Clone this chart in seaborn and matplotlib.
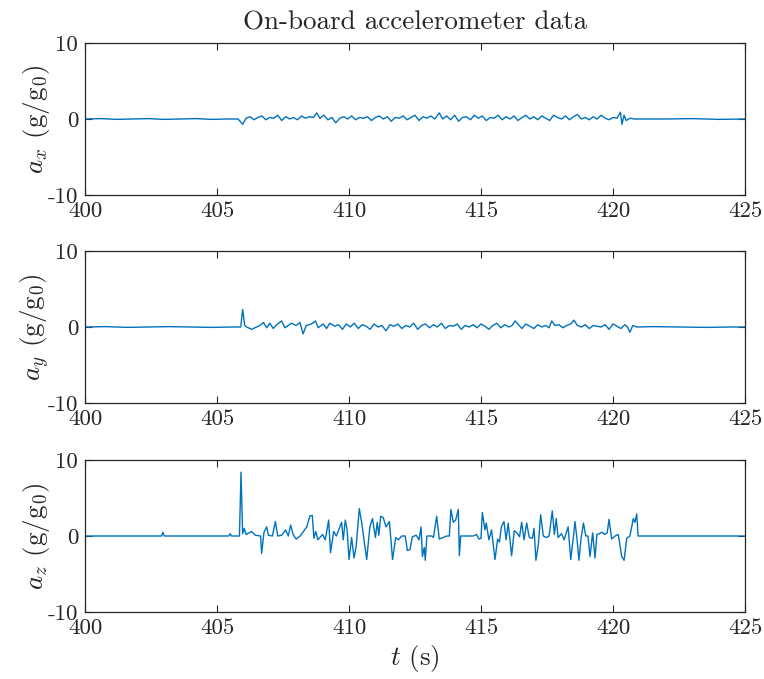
import matplotlib
matplotlib.use("Agg")
import matplotlib.pyplot as plt
import seaborn as sns
import pandas as pd

# ---- accelerometer samples: time (s) and acceleration (g/g0) ----
ax_t = [400.0, 400.6, 401.2, 401.8, 402.4, 403.0, 403.6, 404.2, 404.8, 405.4, 405.8,
        405.97, 406.1, 406.25, 406.4, 406.55, 406.7, 406.85, 407.0, 407.15, 407.3,
        407.45, 407.6, 407.75, 407.9, 408.05, 408.2, 408.35, 408.5, 408.65, 408.78,
        408.9, 409.05, 409.2, 409.35, 409.5, 409.65, 409.8, 409.95, 410.1, 410.25,
        410.4, 410.55, 410.7, 410.85, 411.0, 411.15, 411.3, 411.45, 411.6, 411.75,
        411.9, 412.05, 412.2, 412.35, 412.5, 412.65, 412.8, 412.95, 413.1, 413.25,
        413.42, 413.55, 413.7, 413.85, 414.0, 414.15, 414.3, 414.45, 414.6, 414.75,
        414.9, 415.05, 415.2, 415.35, 415.5, 415.65, 415.8, 415.95, 416.1, 416.25,
        416.4, 416.55, 416.7, 416.85, 417.0, 417.15, 417.3, 417.45, 417.6, 417.75,
        417.9, 418.05, 418.2, 418.35, 418.5, 418.65, 418.8, 418.95, 419.1, 419.25,
        419.4, 419.55, 419.7, 419.85, 420.0, 420.15, 420.28, 420.34, 420.42, 420.5,
        420.65, 420.8, 421.0, 422.0, 423.0, 424.0, 425.0]
ax_v = [0.0, 0.05, -0.05, 0.0, 0.05, -0.05, 0.0, 0.05, -0.05, 0.0, 0.0,
        -0.7, 0.1, 0.3, -0.1, 0.2, 0.4, -0.1, 0.2, 0.1, 0.5,
        -0.2, 0.3, 0.0, 0.2, -0.1, 0.4, 0.1, 0.3, 0.2, 0.8,
        0.1, 0.5, -0.1, 0.2, -0.5, 0.1, 0.3, 0.0, 0.4, -0.1,
        0.2, 0.1, 0.3, -0.2, 0.2, 0.4, 0.0, 0.3, -0.3, 0.2,
        0.1, 0.4, -0.1, 0.2, 0.5, -0.2, 0.3, 0.1, 0.4, 0.0,
        0.8, 0.0, 0.4, -0.1, 0.5, -0.3, 0.2, 0.3, -0.1, 0.5,
        0.1, 0.4, -0.2, 0.2, 0.1, 0.5, -0.1, 0.3, 0.0, 0.4,
        -0.2, 0.2, 0.5, 0.0, 0.3, -0.1, 0.4, 0.1, -0.2, 0.5,
        0.2, 0.0, 0.4, -0.1, 0.3, 0.6, 0.0, 0.2, -0.1, 0.3,
        0.0, 0.5, 0.1, -0.1, 0.2, 0.1, 0.9, -0.7, 0.5, -0.2,
        0.1, 0.0, 0.0, 0.0, 0.05, -0.05, 0.0]

ay_t = [400.0, 400.8, 401.6, 402.4, 403.2, 404.0, 404.8, 405.6, 405.9, 405.97,
        406.05, 406.12, 406.31, 406.5, 406.63, 406.76, 406.88, 407.0, 407.13, 407.26,
        407.45, 407.57, 407.7, 407.82, 408.0, 408.14, 408.26, 408.38, 408.58, 408.73,
        408.83, 409.02, 409.15, 409.27, 409.46, 409.6, 409.75, 409.9, 410.05, 410.2,
        410.35, 410.5, 410.65, 410.8, 410.95, 411.1, 411.25, 411.4, 411.55, 411.7,
        411.85, 412.0, 412.15, 412.3, 412.45, 412.6, 412.75, 412.9, 413.05, 413.2,
        413.35, 413.5, 413.65, 413.8, 413.95, 414.1, 414.25, 414.4, 414.55, 414.7,
        414.85, 415.0, 415.15, 415.3, 415.45, 415.6, 415.75, 415.9, 416.05, 416.18,
        416.29, 416.42, 416.55, 416.7, 416.85, 417.0, 417.15, 417.3, 417.45, 417.58,
        417.68, 417.8, 417.95, 418.1, 418.25, 418.4, 418.52, 418.65, 418.8, 418.95,
        419.1, 419.25, 419.4, 419.55, 419.7, 419.85, 420.0, 420.15, 420.3, 420.45,
        420.55, 420.64, 420.75, 420.9, 421.5, 422.5, 423.5, 424.5, 425.0]
ay_v = [0.0, 0.05, -0.05, 0.0, 0.05, 0.0, -0.05, 0.0, 0.0, 2.3,
        0.2, 0.0, -0.3, 0.0, 0.2, 0.6, -0.1, 0.5, -0.2, 0.3,
        0.8, -0.1, 0.2, 0.5, 0.2, 0.6, -0.9, 0.2, 0.4, 0.8,
        -0.1, 0.4, -0.2, 0.5, 0.1, 0.3, -0.3, 0.4, 0.0, 0.5,
        -0.2, 0.3, 0.1, -0.3, 0.4, 0.0, 0.2, -0.5, 0.3, 0.1,
        0.4, -0.2, 0.2, 0.0, 0.5, -0.3, 0.2, 0.4, -0.1, 0.3,
        0.0, 0.5, -0.2, 0.2, 0.1, 0.4, -0.3, 0.2, 0.0, 0.3,
        -0.1, 0.4, 0.1, -0.3, 0.2, 0.5, -0.1, 0.3, 0.0, 0.2,
        0.8, 0.3, -0.2, 0.4, 0.1, -0.2, 0.3, 0.0, 0.2, -0.1,
        0.8, 0.2, 0.3, -0.1, 0.2, 0.4, 0.9, 0.2, 0.0, 0.3,
        -0.2, 0.2, 0.1, 0.0, 0.3, -0.3, 0.4, 0.1, -0.2, 0.3,
        0.0, -0.7, 0.2, 0.0, 0.05, 0.0, -0.05, 0.0, 0.0]

az_t = [400.0, 401.0, 402.0, 402.9, 402.95, 403.0, 404.0, 405.0, 405.45, 405.5,
        405.55, 405.85, 405.91, 405.97, 406.03, 406.1, 406.31, 406.45, 406.65, 406.69,
        406.78, 406.88, 406.95, 407.1, 407.21, 407.3, 407.45, 407.6, 407.7, 407.79,
        407.88, 408.0, 408.15, 408.4, 408.52, 408.61, 408.67, 408.74, 408.82, 409.0,
        409.1, 409.23, 409.3, 409.42, 409.52, 409.72, 409.78, 409.86, 409.93, 410.0,
        410.1, 410.19, 410.27, 410.39, 410.48, 410.67, 410.79, 410.89, 411.0, 411.07,
        411.13, 411.2, 411.3, 411.4, 411.53, 411.65, 411.77, 411.87, 412.0, 412.13,
        412.21, 412.31, 412.4, 412.55, 412.65, 412.73, 412.78, 412.85, 412.89, 412.95,
        413.14, 413.2, 413.32, 413.42, 413.57, 413.7, 413.8, 413.86, 413.95, 414.04,
        414.14, 414.18, 414.23, 414.5, 414.7, 414.83, 414.92, 415.0, 415.05, 415.15,
        415.2, 415.3, 415.4, 415.53, 415.63, 415.7, 415.77, 415.87, 415.95, 416.03,
        416.16, 416.26, 416.36, 416.46, 416.54, 416.63, 416.73, 416.83, 416.95, 417.01,
        417.08, 417.17, 417.26, 417.36, 417.48, 417.58, 417.7, 417.78, 417.85, 417.92,
        418.05, 418.15, 418.3, 418.4, 418.5, 418.56, 418.64, 418.71, 418.79, 418.88,
        418.97, 419.05, 419.13, 419.23, 419.32, 419.39, 419.48, 419.58, 419.68, 419.78,
        419.85, 419.95, 420.08, 420.2, 420.33, 420.42, 420.52, 420.64, 420.77, 420.83,
        420.9, 420.95, 422.0, 423.0, 424.0, 425.0]
az_v = [0.0, 0.0, 0.0, 0.0, 0.5, 0.0, 0.0, 0.0, 0.0, 0.3,
        0.0, 0.0, 8.4, 0.3, 1.0, 0.2, 0.6, 0.1, 0.0, -2.3,
        0.5, 1.2, 0.1, 0.0, 1.9, 0.0, 0.1, 0.8, 0.0, 1.45,
        0.2, -0.4, 0.0, 1.2, 2.65, 2.7, -0.3, 0.6, -0.5, 0.2,
        -0.5, 2.1, -2.2, 0.6, 0.0, 1.8, -0.5, 2.1, 0.8, -3.1,
        -0.2, -2.9, -1.4, 3.6, 1.8, -3.1, 1.2, 2.3, -0.2, 1.8,
        0.1, 2.6, 2.4, 1.2, 1.9, -3.1, -0.2, -0.5, 0.0, 0.0,
        -1.9, -1.8, -0.1, 0.1, -0.5, 1.2, -2.7, -1.5, -3.2, 0.0,
        0.0, -0.2, 2.6, -0.4, -0.2, 0.0, 0.0, 3.5, 1.8, 2.1,
        3.5, -2.6, 0.0, 0.0, 0.0, 0.2, -0.4, -0.3, 3.1, 0.8,
        1.7, -0.5, 0.8, -3.1, -0.4, -0.8, 1.2, 1.9, -0.5, 1.7,
        -2.6, 0.7, 0.4, -0.1, 1.8, -0.5, 1.7, -0.2, -0.3, 1.0,
        -3.2, -1.2, 2.8, 0.0, -0.2, 0.0, 3.3, 0.2, 2.3, -0.2,
        0.3, -0.5, 1.2, -3.1, -0.1, 1.9, -0.5, -3.2, -0.3, 1.7,
        0.0, 0.0, -2.7, 0.4, -2.9, 0.2, 0.3, 0.5, 0.2, 0.4,
        2.2, -0.4, 0.0, 0.2, -2.7, -3.2, -0.3, 0.0, 2.3, 1.8,
        2.9, 0.0, 0.0, 0.0, 0.0, 0.0]

y_labels = [r"$a_x$ (g/g$_0$)", r"$a_y$ (g/g$_0$)", r"$a_z$ (g/g$_0$)"]
x_ticks = [400, 405, 410, 415, 420, 425]
y_ticks = [-10, 0, 10]
title_text = "On-board accelerometer data"
x_label = r"$t$ (s)"

sns.set_style("ticks")
plt.rcParams.update({
    "font.family": ["cmr10", "DejaVu Serif"],
    "mathtext.fontset": "cm",
    "axes.unicode_minus": False,
    "axes.formatter.use_mathtext": True,
    "axes.edgecolor": "#262626",
    "axes.linewidth": 0.9,
    "xtick.color": "#262626",
    "ytick.color": "#262626",
    "text.color": "#262626",
})

W, H = 764, 679
fig = plt.figure(figsize=(W / 100, H / 100), dpi=100)

line_color = "#0072BD"
left = 85 / W
width = 660 / W
height = 152 / H
tops = [43, 251, 460]

series = [(ax_t, ax_v), (ay_t, ay_v), (az_t, az_v)]
axes = []
for i, ((t, v), top) in enumerate(zip(series, tops)):
    bottom = 1 - (top + 152) / H
    ax = fig.add_axes([left, bottom, width, height])
    df = pd.DataFrame({"t": t, "a": v})
    sns.lineplot(data=df, x="t", y="a", ax=ax, color=line_color,
                 linewidth=1.0, estimator=None, sort=False)
    ax.set_xlim(400, 425)
    ax.set_ylim(-10, 10)
    ax.set_xticks(x_ticks)
    ax.set_xticklabels([str(x) for x in x_ticks])
    ax.set_yticks(y_ticks)
    ax.set_yticklabels([str(y) for y in y_ticks])
    ax.tick_params(direction="in", top=True, right=True, length=5,
                   width=0.8, labelsize=16.5, pad=5)
    for s in ax.spines.values():
        s.set_visible(True)
    ax.set_xlabel("")
    ax.set_ylabel(y_labels[i], fontsize=19.5)
    ax.yaxis.set_label_coords(-0.05, 0.5)
    axes.append(ax)

axes[0].set_title(title_text, fontsize=19.5, pad=10)
axes[2].set_xlabel(x_label, fontsize=19.5, labelpad=3)

fig.savefig("out.png", dpi=100)
